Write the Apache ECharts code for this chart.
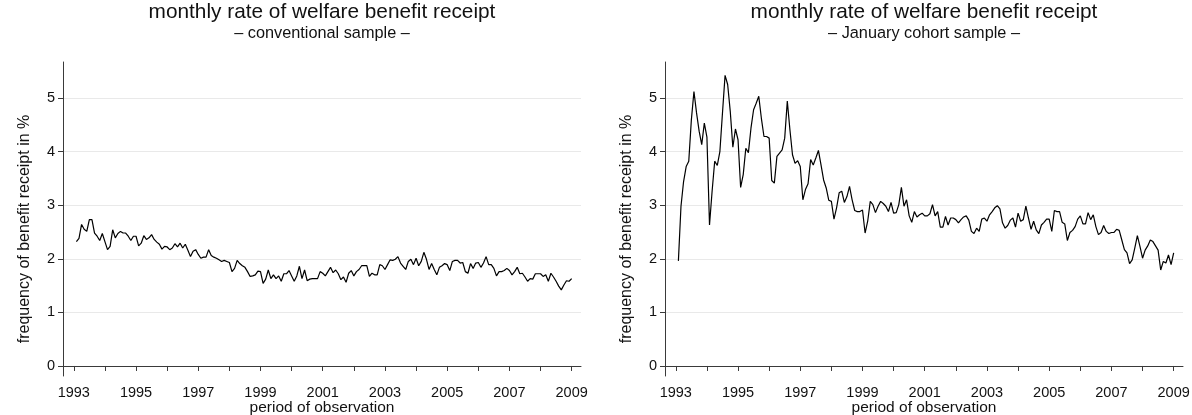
<!DOCTYPE html>
<html>
<head>
<meta charset="utf-8">
<script src="https://cdn.jsdelivr.net/npm/echarts@6/dist/echarts.min.js"></script>
<style>
html,body{margin:0;padding:0;background:#fff;}
#chart{width:1192px;height:415px;}
</style>
</head>
<body>
<div id="chart"></div>
<script>
// ---- data (monthly, Feb 1993 .. Jan 2009) ----
const startYear = 1993;
const conventional = [
  2.32, 2.38, 2.64, 2.55, 2.51, 2.73, 2.73, 2.48, 2.42, 2.34,
  2.47, 2.32, 2.17, 2.23, 2.54, 2.39, 2.47, 2.51, 2.48, 2.48,
  2.42, 2.34, 2.42, 2.42, 2.24, 2.29, 2.43, 2.36, 2.39, 2.45,
  2.36, 2.31, 2.27, 2.18, 2.23, 2.22, 2.17, 2.20, 2.28, 2.22,
  2.29, 2.20, 2.27, 2.16, 2.04, 2.14, 2.17, 2.08, 2.01, 2.03,
  2.03, 2.17, 2.06, 2.03, 2.01, 1.98, 1.95, 1.97, 1.95, 1.93,
  1.76, 1.82, 1.97, 1.91, 1.87, 1.84, 1.76, 1.67, 1.68, 1.70,
  1.77, 1.76, 1.54, 1.62, 1.79, 1.63, 1.70, 1.63, 1.68, 1.58,
  1.72, 1.72, 1.78, 1.68, 1.58, 1.68, 1.86, 1.63, 1.79, 1.59,
  1.62, 1.63, 1.63, 1.63, 1.76, 1.73, 1.68, 1.76, 1.84,
  1.74, 1.79, 1.72, 1.61, 1.66, 1.56, 1.73, 1.78, 1.68, 1.76,
  1.80, 1.87, 1.87, 1.87, 1.67, 1.73, 1.70, 1.70, 1.89, 1.87,
  1.80, 1.89, 1.98, 1.97, 1.99, 2.04, 1.92, 1.86, 1.80, 1.95,
  1.99, 1.89, 2.01, 1.87, 1.95, 2.12, 1.99, 1.80, 1.91, 1.80,
  1.70, 1.84, 1.87, 1.91, 1.89, 1.78, 1.95, 1.97, 1.97, 1.92,
  1.93, 1.76, 1.73, 1.91, 1.82, 1.92, 1.93, 1.84, 1.92, 2.04,
  1.89, 1.89, 1.82, 1.68, 1.76, 1.76, 1.78, 1.82, 1.78, 1.70,
  1.76, 1.84, 1.72, 1.73, 1.66, 1.58, 1.63, 1.62, 1.72, 1.72,
  1.72, 1.67, 1.70, 1.58, 1.73, 1.66, 1.58, 1.49, 1.42, 1.51,
  1.59, 1.58, 1.63
];
const januaryCohort = [
  1.96, 2.98, 3.44, 3.72, 3.82, 4.59, 5.12, 4.72, 4.38, 4.13,
  4.53, 4.27, 2.63, 3.26, 3.82, 3.74, 4.00, 4.72, 5.42, 5.25,
  4.75, 4.08, 4.42, 4.22, 3.33, 3.57, 4.06, 3.98, 4.44, 4.78,
  4.90, 5.03, 4.62, 4.28, 4.28, 4.25, 3.46, 3.41, 3.91, 3.97,
  4.03, 4.25, 4.94, 4.41, 3.94, 3.78, 3.83, 3.72, 3.10, 3.29,
  3.40, 3.85, 3.75, 3.88, 4.02, 3.75, 3.47, 3.32, 3.09, 3.07,
  2.74, 2.95, 3.23,
  3.26, 3.05, 3.16, 3.35, 3.10, 2.90, 2.88, 2.88, 2.91, 2.48,
  2.70, 3.07, 3.01, 2.86, 2.98, 3.07, 3.03, 2.98, 2.88, 3.05,
  2.85, 2.86, 3.01, 3.33, 2.98, 3.10, 2.80, 2.68, 2.88, 2.78,
  2.82, 2.85, 2.80, 2.80, 2.84, 3.01, 2.80, 2.88, 2.59, 2.59,
  2.79, 2.63, 2.76, 2.76, 2.73, 2.67, 2.73, 2.78, 2.80, 2.72,
  2.51, 2.47, 2.57, 2.51, 2.74, 2.76, 2.70, 2.82, 2.88, 2.95,
  2.99,
  2.93, 2.67, 2.57, 2.62, 2.72, 2.76, 2.59, 2.85, 2.70, 2.73,
  2.98, 2.76, 2.55, 2.70, 2.54, 2.47, 2.63, 2.68, 2.74, 2.74,
  2.51, 2.90, 2.88, 2.88, 2.68, 2.65, 2.34, 2.49, 2.53, 2.60,
  2.74, 2.80, 2.65, 2.65, 2.86, 2.73, 2.82, 2.60, 2.45, 2.49,
  2.62, 2.51, 2.47, 2.49, 2.49, 2.55, 2.53, 2.35, 2.17, 2.11,
  1.91, 1.98, 2.20, 2.43, 2.23, 2.01, 2.16, 2.24, 2.35, 2.32,
  2.24, 2.16, 1.79, 1.95, 1.92, 2.07, 1.89, 2.11
];
const xTickYears = [1993,1994,1995,1996,1997,1998,1999,2000,2001,2002,2003,2004,2005,2006,2007,2008,2009];
const xLabelYears = [1993,1995,1997,1999,2001,2003,2005,2007,2009];
const yTicks = [0,1,2,3,4,5];
const titleText = 'monthly rate of welfare benefit receipt';
const subtitles = ['\u2013 conventional sample \u2013', '\u2013 January cohort sample \u2013'];
const xTitle = 'period of observation';
const yTitle = 'frequency of benefit receipt in %';

function toPairs(arr) {
  return arr.map((v, i) => [startYear + (i + 1) / 12, v]);
}

const FONT = '"Liberation Sans", Arial, Helvetica, sans-serif';
const axisCol = '#3a3a3a';
const gridCol = '#e9e9e9';

function makeX(idx) {
  return {
    type: 'value', gridIndex: idx, min: 1992.653, max: 2009.30,
    name: xTitle, nameLocation: 'middle', nameGap: 24, nameMoveOverlap: false,
    nameTextStyle: {fontFamily: FONT, fontSize: 15.5, color: '#111'},
    axisLine: {show: true, lineStyle: {color: axisCol, width: 1}},
    axisTick: {show: true, length: 5, lineStyle: {color: axisCol}, customValues: xTickYears},
    axisLabel: {show: true, customValues: xLabelYears, fontFamily: FONT, fontSize: 14.5, color: '#111', margin: 9,
                formatter: v => String(Math.round(v))},
    splitLine: {show: false}
  };
}
function makeY(idx) {
  return {
    type: 'value', gridIndex: idx, min: -0.187, max: 5.67,
    name: yTitle, nameLocation: 'middle', nameGap: 30, nameMoveOverlap: false,
    nameTextStyle: {fontFamily: FONT, fontSize: 16, color: '#111', padding: [0, 20, 0, 0]},
    axisLine: {show: true, lineStyle: {color: axisCol, width: 1}},
    axisTick: {show: true, length: 5, lineStyle: {color: axisCol}, customValues: yTicks},
    axisLabel: {show: true, customValues: yTicks, fontFamily: FONT, fontSize: 14.5, color: '#111', margin: 8},
    splitLine: {show: true, lineStyle: {color: ['rgba(0,0,0,0)', gridCol, gridCol, gridCol, gridCol, gridCol], width: 1}}
  };
}

const chart = echarts.init(document.getElementById('chart'), null, {renderer: 'canvas'});
chart.setOption({
  backgroundColor: '#fff',
  animation: false,
  title: [
    {text: titleText, left: 322, top: 2, textAlign: 'center', padding: 0,
     textStyle: {fontFamily: FONT, fontSize: 20.8, fontWeight: 'normal', color: '#111'}},
    {text: subtitles[0], left: 322, top: 26, textAlign: 'center', padding: 0,
     textStyle: {fontFamily: FONT, fontSize: 16.3, fontWeight: 'normal', color: '#111'}},
    {text: titleText, left: 924, top: 2, textAlign: 'center', padding: 0,
     textStyle: {fontFamily: FONT, fontSize: 20.8, fontWeight: 'normal', color: '#111'}},
    {text: subtitles[1], left: 924, top: 26, textAlign: 'center', padding: 0,
     textStyle: {fontFamily: FONT, fontSize: 16.3, fontWeight: 'normal', color: '#111'}}
  ],
  grid: [
    {left: 63, top: 62, width: 518, height: 314, outerBoundsMode: 'none'},
    {left: 665, top: 62, width: 518, height: 314, outerBoundsMode: 'none'}
  ],
  xAxis: [makeX(0), makeX(1)],
  yAxis: [makeY(0), makeY(1)],
  series: [
    {type: 'line', xAxisIndex: 0, yAxisIndex: 0, data: toPairs(conventional), showSymbol: false,
     lineStyle: {color: '#000', width: 1.2}, silent: true},
    {type: 'line', xAxisIndex: 1, yAxisIndex: 1, data: toPairs(januaryCohort), showSymbol: false,
     lineStyle: {color: '#000', width: 1.2}, silent: true}
  ]
});
</script>
</body>
</html>
